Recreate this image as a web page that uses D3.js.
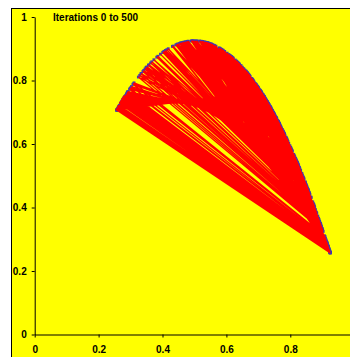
<!DOCTYPE html>
<html>
<head>
<meta charset="utf-8">
<script src="https://cdn.jsdelivr.net/npm/d3@7"></script>
<style>
  body { margin: 0; background: #fff; }
  text { font-family: "Liberation Sans", Arial, sans-serif; font-weight: bold; }
</style>
</head>
<body>
<div id="chart"></div>
<script>
// orbit values (x_n); each point is (x_n, x_n+1)
const orbit = [
  0.300, 0.777, 0.641, 0.851, 0.469, 0.921, 0.269, 0.728, 0.733, 0.724,
  0.739, 0.714, 0.756, 0.683, 0.801, 0.590, 0.895, 0.348, 0.840, 0.497,
  0.925, 0.257, 0.7065, 0.767, 0.661, 0.829, 0.5245, 0.923, 0.263, 0.717,
  0.751, 0.692, 0.789, 0.616, 0.875, 0.405, 0.892, 0.356, 0.848, 0.477,
  0.9232, 0.2623, 0.716, 0.752, 0.690, 0.791, 0.612, 0.879, 0.3935, 0.883,
  0.382, 0.8735, 0.409, 0.894, 0.351, 0.843, 0.490, 0.9246, 0.258, 0.708,
  0.765, 0.665, 0.824, 0.537, 0.920, 0.272, 0.732, 0.726, 0.736, 0.719,
  0.7475, 0.698, 0.780, 0.635, 0.857, 0.4534, 0.917, 0.2816, 0.7485, 0.6965,
  0.782, 0.631, 0.8615, 0.4415, 0.912, 0.297, 0.7725, 0.650, 0.842, 0.492,
  0.9248, 0.2573, 0.707, 0.7665, 0.662, 0.828, 0.527, 0.9223, 0.2652, 0.721,
  0.7443, 0.704, 0.771, 0.653, 0.838, 0.502, 0.9249, 0.2570, 0.7066, 0.7671,
  0.661, 0.830, 0.5221, 0.9236, 0.2611, 0.7138, 0.7559, 0.6827, 0.8015, 0.5887,
  0.8959, 0.3451, 0.8362, 0.5068, 0.9245, 0.2583, 0.7089, 0.7635, 0.6681, 0.8204,
  0.5452, 0.9174, 0.2804, 0.7466, 0.700, 0.7775, 0.6401, 0.8524, 0.4655, 0.9206,
  0.2705, 0.7301, 0.7291, 0.7308, 0.7279, 0.7328, 0.7245, 0.7385, 0.7145, 0.7548,
  0.6848, 0.7987, 0.5949, 0.8917, 0.3573, 0.8497, 0.4725, 0.9222, 0.2655, 0.7215,
  0.7435, 0.7056, 0.7686, 0.6581, 0.8325, 0.5159, 0.9241, 0.2595, 0.711, 0.7603,
  0.6743, 0.8126, 0.5634, 0.9101, 0.3027, 0.781, 0.6328, 0.8597, 0.4463, 0.9143,
  0.2899, 0.7617, 0.6716, 0.816, 0.5555, 0.9136, 0.2921, 0.7651, 0.665, 0.8243,
  0.5359, 0.9202, 0.2717, 0.7322, 0.7255, 0.7369, 0.7174, 0.7501, 0.6936, 0.7863,
  0.6217, 0.8702, 0.4179, 0.9001, 0.3327, 0.8214, 0.5428, 0.9182, 0.2779, 0.7425,
  0.7074, 0.7659, 0.6634, 0.8262, 0.5313, 0.9214, 0.268, 0.7259, 0.7362, 0.7186,
  0.7482, 0.6971, 0.7813, 0.6322, 0.8603, 0.4447, 0.9137, 0.2918, 0.7646, 0.666,
  0.823, 0.539, 0.9194, 0.2742, 0.7363, 0.7184, 0.749, 0.6956, 0.7834, 0.6278,
  0.8646, 0.4332, 0.9085, 0.3076, 0.788, 0.6181, 0.8734, 0.4091, 0.8944, 0.3495,
  0.8412, 0.4942, 0.9247, 0.2576, 0.7076, 0.7655, 0.6642, 0.8252, 0.5337, 0.9208,
  0.2698, 0.7289, 0.7311, 0.7274, 0.7337, 0.7229, 0.7412, 0.7097, 0.7623, 0.6704,
  0.8176, 0.5518, 0.9151, 0.2875, 0.7579, 0.6789, 0.8066, 0.5772, 0.9029, 0.3244,
  0.8109, 0.5674, 0.9082, 0.3085, 0.7893, 0.6153, 0.8758, 0.4025, 0.8898, 0.3628,
  0.8554, 0.4577, 0.9184, 0.2773, 0.7415, 0.7092, 0.7631, 0.6689, 0.8194, 0.5475,
  0.9166, 0.2828, 0.7504, 0.693, 0.7872, 0.6198, 0.8719, 0.4133, 0.8972, 0.3413,
  0.8318, 0.5177, 0.9238, 0.2605, 0.7128, 0.7575, 0.6797, 0.8055, 0.5797, 0.9015,
  0.3286, 0.8163, 0.5548, 0.9139, 0.2911, 0.764, 0.6671, 0.8217, 0.5421, 0.9185,
  0.277, 0.741, 0.7101, 0.762, 0.671, 0.8168, 0.5537, 0.9145, 0.2893, 0.7608,
  0.6733, 0.8139, 0.5604, 0.9115, 0.2985, 0.7748, 0.6456, 0.8466, 0.4805, 0.9236,
  0.264, 0.7189, 0.7477, 0.6985, 0.7792, 0.6366, 0.856, 0.4561, 0.9179, 0.2788,
  0.744, 0.7047, 0.770, 0.6553, 0.8358, 0.5078, 0.9244, 0.2586, 0.7094, 0.7628,
  0.6695, 0.8187, 0.5492, 0.916, 0.2847, 0.7535, 0.6872, 0.7953, 0.6024, 0.8862,
  0.3731, 0.8654, 0.431, 0.9074, 0.3109, 0.7927, 0.608, 0.8819, 0.3854, 0.8764,
  0.4008, 0.8886, 0.3663, 0.8589, 0.4484, 0.9152, 0.2872, 0.757, 0.6806, 0.8043,
  0.5824, 0.8999, 0.3333, 0.8222, 0.5409, 0.9188, 0.2761, 0.7395, 0.7135, 0.7564,
  0.6818, 0.803, 0.5853, 0.8981, 0.3386, 0.8286, 0.5255, 0.9226, 0.2642, 0.7193,
  0.7471, 0.6991, 0.7783, 0.6384, 0.8541, 0.4611, 0.9196, 0.2736, 0.7353, 0.7201,
  0.7458, 0.7014, 0.7749, 0.6454, 0.8468, 0.48, 0.9235, 0.2614
];
const ticks = [0, 0.2, 0.4, 0.6, 0.8, 1];
const title = "Iterations 0 to 500";

const width = 350, height = 357;

const points = orbit.slice(0, -1).map((d, i) => [d, orbit[i + 1]]);

const x = d3.scaleLinear().domain([0, 1]).range([34.7, 354.2]);
const y = d3.scaleLinear().domain([0, 1]).range([334.5, 17]);

const svg = d3.select("#chart")
  .append("svg")
  .attr("width", width)
  .attr("height", height);

// yellow frame
svg.append("rect")
  .attr("x", 11.5)
  .attr("y", 8.5)
  .attr("width", 400)
  .attr("height", 400)
  .attr("fill", "#ffff00")
  .attr("stroke", "#000")
  .attr("stroke-width", 1);

// markers first, lines over them
svg.append("g")
  .selectAll("rect")
  .data(points)
  .enter()
  .append("rect")
  .attr("x", d => x(d[0]) - 1.4)
  .attr("y", d => y(d[1]) - 1.4)
  .attr("width", 2.8)
  .attr("height", 2.8)
  .attr("fill", "#3c3cb4");

svg.append("path")
  .datum(points)
  .attr("fill", "none")
  .attr("stroke", "#ff0000")
  .attr("stroke-width", 1.25)
  .attr("d", d3.line().x(d => x(d[0])).y(d => y(d[1])));

const fmt = d => d3.format("~g")(d);

const xAxis = svg.append("g")
  .attr("transform", `translate(0,${y(0)})`)
  .call(d3.axisBottom(x).tickValues(ticks.slice(0, 5)).tickSize(3).tickSizeOuter(0).tickPadding(8).tickFormat(fmt));

const yAxis = svg.append("g")
  .attr("transform", `translate(${x(0)},0)`)
  .call(d3.axisLeft(y).tickValues(ticks).tickSize(3).tickSizeOuter(0).tickPadding(5).tickFormat(fmt));

[xAxis, yAxis].forEach(a => {
  a.selectAll("text")
    .style("font-size", "10px")
    .style("font-family", "'Liberation Sans', Arial, sans-serif")
    .style("font-weight", "bold")
    .attr("fill", "#000");
  a.selectAll("line, path").attr("stroke", "#000");
});

svg.append("text")
  .attr("x", 53)
  .attr("y", 21)
  .text(title)
  .style("font-size", "10px")
  .attr("fill", "#000");
</script>
</body>
</html>
